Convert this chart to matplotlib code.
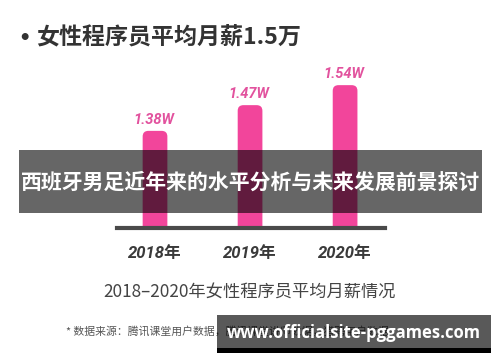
import matplotlib
matplotlib.use('Agg')
import matplotlib.pyplot as plt
from matplotlib.patches import FancyBboxPatch, Rectangle

plt.rcParams['font.family'] = ['Noto Sans CJK SC', 'DejaVu Sans']

# data
years = ['2018年', '2019年', '2020年']
salary = [1.38, 1.47, 1.54]          # 万元 / month
labels = ['1.38W', '1.47W', '1.54W']

title = '女性程序员平均月薪1.5万'
subtitle = '2018–2020年女性程序员平均月薪情况'
source = '* 数据来源：腾讯课堂用户数据，腾讯课堂讲师数据，猎聘用户数据'
banner = '西班牙男足近年来的水平分析与未来发展前景探讨'
watermark = 'www.officialsite-pggames.com'

W, H = 500, 362
fig = plt.figure(figsize=(5, 3.62), dpi=100)
fig.patch.set_facecolor('white')


def fx(px):
    return px / W


def fy(py):
    return 1 - py / H


# bar axes: baseline at y=228px, 285.7 px per unit
base_px = 228
scale = 285.7
ymin = 1.04
ax = fig.add_axes([fx(117), fy(base_px), fx(385 - 117), base_px / H])
ax.set_xlim(-0.4, 2.42)
ax.set_ylim(ymin, ymin + base_px / scale)

bar_w = 0.26
pink = '#F2459B'
for i, v in enumerate(salary):
    bottom = 1.0
    p = FancyBboxPatch((i - bar_w / 2, bottom), bar_w, v - bottom,
                       boxstyle='round,pad=0,rounding_size=0.06',
                       mutation_aspect=0.33, fc=pink, ec='none', zorder=2)
    ax.add_patch(p)
    ax.annotate(labels[i], (i, v), xytext=(-1, 3), textcoords='offset points',
                ha='center', va='bottom', color='#E2529E', fontsize=10.5,
                family=['Roboto', 'DejaVu Sans'], style='italic',
                weight='bold')

for s in ['top', 'right', 'left']:
    ax.spines[s].set_visible(False)
ax.spines['bottom'].set_color('#4a4a4a')
ax.spines['bottom'].set_linewidth(3)
ax.set_yticks([])
ax.set_xticks(range(len(years)))
ax.set_xticklabels(years, family=['Roboto', 'Noto Sans CJK SC'],
                   style='italic', weight='bold', fontsize=12,
                   color='#3a3a3a')
ax.tick_params(axis='x', length=0, pad=13)
ax.patch.set_alpha(0)

# texts
fig.text(fx(24.5), fy(38), '•', ha='center', va='center', fontsize=14,
         weight='bold', color='#333333', family='DejaVu Sans')
fig.text(fx(36), fy(37), title, ha='left', va='center', fontsize=16.6,
         weight='bold', color='#333333')
fig.text(fx(250), fy(292), subtitle, ha='center', va='center',
         fontsize=12.4, color='#444444')
fig.text(fx(66), fy(332), source, ha='left', va='center', fontsize=7.8,
         color='#555555')

# dark banner over the chart
fig.add_artist(Rectangle((fx(19), fy(213)), fx(482 - 19), (213 - 150) / H,
                         transform=fig.transFigure, fc='black', alpha=0.6,
                         ec='none', zorder=5))
fig.text(fx(250.5), fy(182), banner, ha='center', va='center', fontsize=15,
         weight='bold', color='white', zorder=6)

# watermark box
fig.add_artist(Rectangle((fx(217), fy(348)), fx(491 - 217), (348 - 315) / H,
                         transform=fig.transFigure, fc='black', alpha=0.65,
                         ec='none', zorder=5))
fig.add_artist(Rectangle((fx(217), fy(353)), fx(491 - 217), 5 / H,
                         transform=fig.transFigure, fc='black',
                         ec='none', zorder=5))
fig.text(fx(354), fy(333), watermark, ha='center', va='center', fontsize=12,
         weight='bold', color='white', family=['Open Sans', 'DejaVu Sans'],
         zorder=6)

fig.savefig('out.png', dpi=100)
